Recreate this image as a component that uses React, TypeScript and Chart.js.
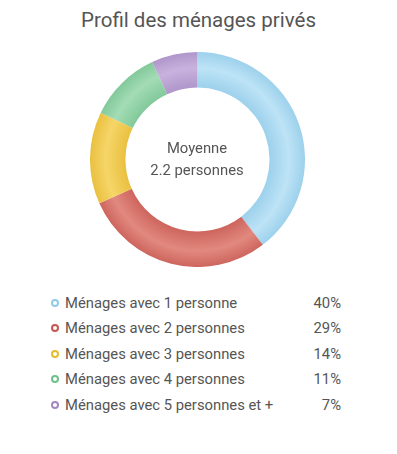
import React, { useEffect, useRef } from "react";
import { Chart, registerables } from "chart.js";

Chart.register(...registerables);

const title = "Profil des ménages privés";
const categories = [
  "Ménages avec 1 personne",
  "Ménages avec 2 personnes",
  "Ménages avec 3 personnes",
  "Ménages avec 4 personnes",
  "Ménages avec 5 personnes et +",
];
const values = [40, 29, 14, 11, 7];
const colors = ["#a9d9f1", "#d77068", "#f0c94a", "#8ed3a4", "#bba0d3"];
const lightColors = ["#bde3f6", "#e2897f", "#f6d668", "#a3dcb5", "#c8b2dd"];
const darkColors = ["#9dd1ec", "#cd655d", "#e9c040", "#82c99a", "#b096cb"];
const markerColors = ["#8fcbe8", "#c9574f", "#e6bb2c", "#6fc08a", "#a487c2"];
const centerLines = ["Moyenne", "2.2 personnes"];

const FONT = "Roboto, 'Noto Sans', Arial, sans-serif";
const TEXT = "#555555";
const CUTOUT = 0.67;

export default function App() {
  const ref = useRef<HTMLCanvasElement | null>(null);

  useEffect(() => {
    document.body.style.margin = "0";
    const canvas = ref.current;
    if (!canvas) return;
    const chart = new Chart(canvas, {
      type: "doughnut",
      data: {
        labels: categories,
        datasets: [
          {
            data: values,
            borderWidth: 0,
            backgroundColor: (ctx: any) => {
              const i = ctx.dataIndex ?? 0;
              const c = ctx.chart;
              const area = c.chartArea;
              if (!area) return colors[i];
              const cx = (area.left + area.right) / 2;
              const cy = (area.top + area.bottom) / 2;
              const outer = Math.min(area.right - area.left, area.bottom - area.top) / 2;
              const inner = outer * CUTOUT;
              const g = c.ctx.createRadialGradient(cx, cy, inner, cx, cy, outer);
              g.addColorStop(0, darkColors[i]);
              g.addColorStop(0.55, lightColors[i]);
              g.addColorStop(1, darkColors[i]);
              return g;
            },
          },
        ],
      },
      options: {
        animation: false,
        responsive: false,
        maintainAspectRatio: false,
        cutout: `${CUTOUT * 100}%`,
        layout: { padding: 0 },
        plugins: {
          legend: { display: false },
          tooltip: { enabled: false },
          title: { display: false },
        },
      },
    });
    return () => chart.destroy();
  }, []);

  return (
    <div
      style={{
        position: "relative",
        width: 397,
        height: 454,
        background: "#ffffff",
        fontFamily: FONT,
        color: TEXT,
      }}
    >
      <div
        style={{
          position: "absolute",
          left: 0,
          top: 8,
          width: 397,
          textAlign: "center",
          fontSize: 20.5,
          lineHeight: "24px",
        }}
      >
        {title}
      </div>
      <canvas
        ref={ref}
        width={215}
        height={215}
        style={{ position: "absolute", left: 90, top: 52, width: 215, height: 215 }}
      />
      <div
        style={{
          position: "absolute",
          left: 97,
          top: 137,
          width: 200,
          textAlign: "center",
          fontSize: 14.8,
          lineHeight: "22px",
        }}
      >
        {centerLines.map((l) => (
          <div key={l}>{l}</div>
        ))}
      </div>
      <div style={{ position: "absolute", left: 51, top: 290, width: 290 }}>
        {categories.map((c, i) => (
          <div
            key={c}
            style={{
              display: "flex",
              alignItems: "center",
              height: 25.5,
              fontSize: 14.8,
            }}
          >
            <span
              style={{
                display: "inline-block",
                width: 4,
                height: 4,
                borderRadius: "50%",
                border: `2.5px solid ${markerColors[i]}`,
                marginRight: 6,
                boxSizing: "content-box",
              }}
            />
            <span style={{ flex: 1 }}>{c}</span>
            <span>{values[i]}%</span>
          </div>
        ))}
      </div>
    </div>
  );
}
